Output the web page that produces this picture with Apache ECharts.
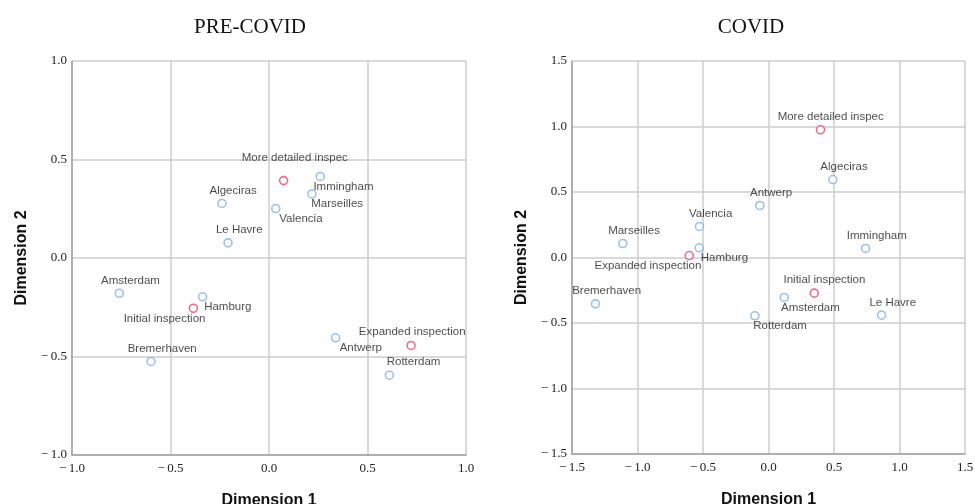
<!DOCTYPE html>
<html>
<head>
<meta charset="utf-8">
<script src="https://cdn.jsdelivr.net/npm/echarts@6/dist/echarts.min.js"></script>
<style>html,body{margin:0;padding:0;background:#fff}#c{width:975px;height:504px}</style>
</head>
<body>
<div id="c"></div>
<script>
// ---- DATA ----
const preNames = ['Immingham','Marseilles','Valencia','Algeciras','Le Havre','Amsterdam','Hamburg','Bremerhaven','Antwerp','Rotterdam'];
const preX     = [0.26, 0.218, 0.034, -0.239, -0.208, -0.760, -0.337, -0.599, 0.338, 0.611];
const preY     = [0.414, 0.325, 0.251, 0.277, 0.077, -0.179, -0.197, -0.525, -0.405, -0.595];
const preCatNames = ['More detailed inspec','Initial inspection','Expanded inspection'];
const preCatX     = [0.074, -0.384, 0.721];
const preCatY     = [0.393, -0.255, -0.444];

const covNames = ['Algeciras','Antwerp','Valencia','Hamburg','Marseilles','Immingham','Amsterdam','Rotterdam','Le Havre','Bremerhaven'];
const covX     = [0.491, -0.066, -0.527, -0.529, -1.112, 0.741, 0.120, -0.104, 0.863, -1.321];
const covY     = [0.595, 0.397, 0.237, 0.074, 0.107, 0.069, -0.305, -0.445, -0.440, -0.354];
const covCatNames = ['More detailed inspec','Expanded inspection','Initial inspection'];
const covCatX     = [0.397, -0.605, 0.349];
const covCatY     = [0.975, 0.015, -0.272];

const preTicks = [-1.0, -0.5, 0.0, 0.5, 1.0];
const covTicks = [-1.5, -1.0, -0.5, 0.0, 0.5, 1.0, 1.5];

// ---- LABEL PLACEMENT (style only): label centre relative to marker centre ----
const NE = [12, -12], SE = [26, 11];
const preOffsets = {
  'Immingham': [24, 11], 'Marseilles': SE, 'Valencia': SE, 'Algeciras': NE, 'Le Havre': NE,
  'Amsterdam': NE, 'Hamburg': SE, 'Bremerhaven': NE, 'Antwerp': SE, 'Rotterdam': [25, -12.5],
  'More detailed inspec': [12, -21.5], 'Initial inspection': [-28, 11], 'Expanded inspection': [2, -12.5]
};
const covOffsets = {
  'Algeciras': NE, 'Antwerp': NE, 'Valencia': NE, 'Hamburg': SE, 'Marseilles': NE, 'Immingham': NE,
  'Amsterdam': [27, 11], 'Rotterdam': SE, 'Le Havre': NE, 'Bremerhaven': NE,
  'More detailed inspec': [11, -12.5], 'Expanded inspection': [-40.5, 11], 'Initial inspection': [11, -12.5]
};

const BLUE = '#7fb0f0', RED = '#e8476a';
const SYM = 8;

function pts(names, xs, ys, offs) {
  return names.map((n, i) => ({
    name: n, value: [xs[i], ys[i]],
    label: { position: [SYM / 2 + offs[n][0], SYM / 2 + offs[n][1]] }
  }));
}

function fmt(v) {
  const a = Math.abs(v).toFixed(1);
  return v < 0 ? '\u2212\u2009' + a : a;
}

function xAxis(gi, ticks) {
  return {
    gridIndex: gi, type: 'value', min: ticks[0], max: ticks[ticks.length - 1], interval: 0.5,
    name: 'Dimension 1', nameLocation: 'middle', nameGap: 38,
    nameTextStyle: { fontFamily: 'Liberation Sans', fontWeight: 'bold', fontSize: 16, color: '#111' },
    axisLine: { show: true, onZero: false, lineStyle: { color: '#a0a0a0', width: 1.5 } },
    axisTick: { show: false },
    axisLabel: { formatter: fmt, fontFamily: 'Liberation Serif', fontSize: 13, color: '#222', margin: 7, showMinLabel: true, showMaxLabel: true },
    splitLine: { show: true, lineStyle: { color: '#cdcdcd', width: 1.5 } }
  };
}
function yAxis(gi, ticks) {
  return {
    gridIndex: gi, type: 'value', min: ticks[0], max: ticks[ticks.length - 1], interval: 0.5,
    name: 'Dimension 2', nameLocation: 'middle', nameGap: 42,
    nameTextStyle: { fontFamily: 'Liberation Sans', fontWeight: 'bold', fontSize: 16, color: '#111' },
    axisLine: { show: true, onZero: false, lineStyle: { color: '#a0a0a0', width: 1.5 } },
    axisTick: { show: false },
    axisLabel: { formatter: fmt, fontFamily: 'Liberation Serif', fontSize: 13, color: '#222', margin: 5, showMinLabel: true, showMaxLabel: true },
    splitLine: { show: true, lineStyle: { color: '#cdcdcd', width: 1.5 } }
  };
}

function series(gi, data, color) {
  return {
    type: 'scatter', xAxisIndex: gi, yAxisIndex: gi, data: data,
    symbol: 'circle', symbolSize: SYM,
    itemStyle: { color: '#fff', borderColor: color, borderWidth: 1.6 },
    label: {
      show: true, formatter: '{b}', align: 'center', verticalAlign: 'middle',
      fontFamily: 'Liberation Sans', fontSize: 11.5, color: '#1c1c1c'
    },
    emphasis: { disabled: true },
    silent: true, animation: false
  };
}

const chart = echarts.init(document.getElementById('c'), null, { renderer: 'canvas' });
chart.setOption({
  animation: false,
  backgroundColor: '#fff',
  title: [
    { text: 'PRE-COVID', left: 245, top: 12, textAlign: 'center',
      textStyle: { fontFamily: 'Liberation Serif', fontWeight: 'normal', fontSize: 21, color: '#111' } },
    { text: 'COVID', left: 746, top: 12, textAlign: 'center',
      textStyle: { fontFamily: 'Liberation Serif', fontWeight: 'normal', fontSize: 21, color: '#111' } }
  ],
  grid: [
    { left: 72, top: 61, width: 394, height: 394, containLabel: false, outerBoundsMode: 'none' },
    { left: 572, top: 61, width: 393, height: 393, containLabel: false, outerBoundsMode: 'none' }
  ],
  xAxis: [xAxis(0, preTicks), xAxis(1, covTicks)],
  yAxis: [yAxis(0, preTicks), yAxis(1, covTicks)],
  series: [
    series(0, pts(preNames, preX, preY, preOffsets), BLUE),
    series(0, pts(preCatNames, preCatX, preCatY, preOffsets), RED),
    series(1, pts(covNames, covX, covY, covOffsets), BLUE),
    series(1, pts(covCatNames, covCatX, covCatY, covOffsets), RED)
  ]
});
</script>
</body>
</html>
